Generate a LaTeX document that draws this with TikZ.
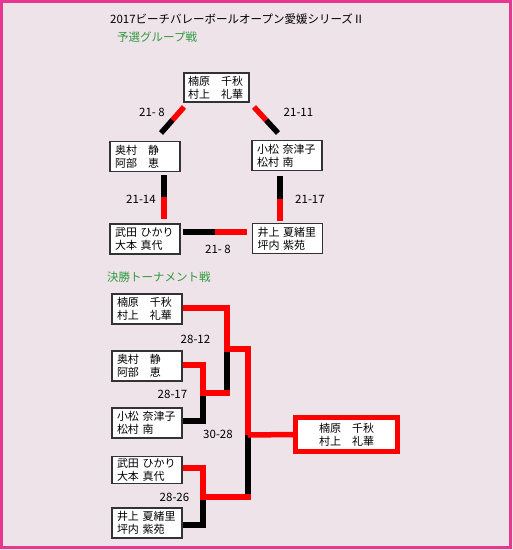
\documentclass[tikz,border=0pt]{standalone}
\usepackage{fontspec}
\setmainfont{Noto Sans CJK JP}
\usetikzlibrary{calc}
\definecolor{pagebg}{HTML}{EEE3E9}
\definecolor{frame}{HTML}{E6388F}
\definecolor{headgreen}{HTML}{2E9A3E}
\definecolor{boxline}{HTML}{333333}
\tikzset{
  redln/.style  = {draw=red,   line width=5.5pt},
  blkln/.style  = {draw=black, line width=5.5pt},
  %% Player boxes
  pbox/.style = {draw=boxline, fill=white, line width=1.3pt, align=left,
                 text width=60pt, inner xsep=5pt, inner ysep=0pt,
                 minimum height=30pt, font=\fontsize{11}{13}\selectfont},
  wbox/.style = {draw=red, fill=white, line width=5pt, align=center,
                 minimum width=102pt, minimum height=34pt, inner sep=0pt,
                 font=\fontsize{11}{13}\selectfont},
  score/.style = {font=\fontsize{11.5}{13}\selectfont, inner sep=0pt},
  head/.style  = {font=\fontsize{11.5}{13}\selectfont, inner sep=0pt, anchor=west},
}

\begin{document}
\begin{tikzpicture}[x=1pt, y=-1pt]

%% ---- Page frame ----
\useasboundingbox (0,0) rectangle (513,550);
\fill[pagebg] (0,0) rectangle (513,550);
\draw[frame, line width=3pt] (1.5,1.5) rectangle (510.5,547.5);

%% ---- Headings ----
\node[head] (title)  at (110, 19) {2017ビーチバレーボールオープン愛媛シリーズⅡ};
\node[head, text=headgreen] (grphead) at (117, 37) {予選グループ戦};
\node[head, text=headgreen] (tnhead)  at (107,277) {決勝トーナメント戦};

%% ---- (1) Group stage ----
\node[pbox, text width=57pt, inner xsep=4pt, minimum height=29pt] (gtop) at (216.5, 87.5) {楠原　千秋\\村上　礼華};
\node[pbox] (gleft)  at (145.0,156.5) {奥村　静\\阿部　恵};
\node[pbox] (gright) at (287.0,155.5) {小松 奈津子\\松村 南};
\node[pbox] (gbl)    at (145.0,239.0) {武田 ひかり\\大本 真代};
\node[pbox] (gbr)    at (287.5,238.5) {井上 夏緒里\\坪内 紫苑};

%% match bars (black = loser side, red = winner side)
\coordinate (tlR) at (184,107);  \coordinate (tlB) at (161,133);
\coordinate (trR) at (254,107);  \coordinate (trB) at (278,133);
\coordinate (lvB) at (164,175);  \coordinate (lvR) at (164,219);
\coordinate (rvB) at (280,176);  \coordinate (rvR) at (280,221);
\coordinate (bhB) at (183,232);  \coordinate (bhR) at (247,232);

\foreach \b/\r in {tlB/tlR, trB/trR, lvB/lvR, rvB/rvR, bhB/bhR} {
  \draw[blkln] (\b) -- ($(\b)!0.5!(\r)$);
  \draw[redln] ($(\b)!0.5!(\r)$) -- (\r);
}

\node[score] (s1) at (152.0,112) {21- 8};
\node[score] (s2) at (298.5,112) {21-11};
\node[score] (s3) at (141.0,199) {21-14};
\node[score] (s4) at (310.0,199) {21-17};
\node[score] (s5) at (218.0,249) {21- 8};

%% ---- (2) Final tournament ----
\node[pbox] (t1) at (147,309) {楠原　千秋\\村上　礼華};
\node[pbox] (t2) at (147,366) {奥村　静\\阿部　恵};
\node[pbox] (t3) at (147,423) {小松 奈津子\\松村 南};
\node[pbox, minimum height=27pt] (t4) at (147,470) {武田 ひかり\\大本 真代};
\node[pbox] (t5) at (147,523) {井上 夏緒里\\坪内 紫苑};

\node[wbox] (champ) at (346.5,434.5) {楠原　千秋\\村上　礼華};

%% bracket joints
\coordinate (q1) at (203,393);
\coordinate (q2) at (203,497);
\coordinate (sf) at (227,349);
\coordinate (fn) at (248,435);

%% losers first (black)
\draw[blkln] (t3.east |- 0,421) -- (203,421) -- (q1);
\draw[blkln] (t5.east |- 0,525) -- (203,525) -- (q2);
\draw[blkln] (sf) -- (227,393);
\draw[blkln] (fn) -- (248,499);

%% winners (red)
\draw[redln] (t2.east |- 0,365) -- (203,365) -- (q1) -- (229.5,393);
\draw[redln] (t4.east |- 0,468) -- (203,468) -- (q2) -- (250.5,497);
\draw[redln] (t1.east |- 0,308) -- (227,308) -- (sf) -- (248,349) -- (fn);
\draw[redln] (fn) -- (champ.west);

\node[score] (s6) at (195.5,339) {28-12};
\node[score] (s7) at (172.5,394) {28-17};
\node[score] (s8) at (218.0,434) {30-28};
\node[score] (s9) at (174.5,497) {28-26};

\end{tikzpicture}
\end{document}
